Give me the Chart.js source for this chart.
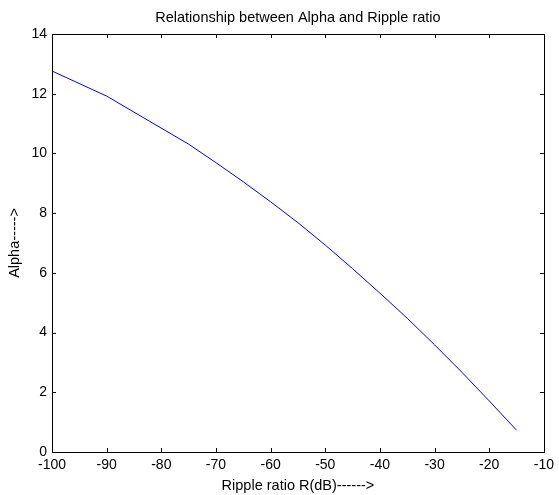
<!DOCTYPE html>
<html>
<head>
<meta charset="utf-8">
<script src="https://cdn.jsdelivr.net/npm/chart.js@4/dist/chart.umd.min.js"></script>
<style>
    html, body { margin: 0; padding: 0; background: #fff; }
    #wrap { width: 559px; height: 495px; }
</style>
</head>
<body>
<div id="wrap"><canvas id="chart1"></canvas></div>
<script>
// values
const rippleDb = [-100, -90, -75, -70, -65, -60, -55, -50, -45, -40, -35, -30, -25, -20, -15];
const alphaValues = [12.76, 11.92, 10.31, 9.69, 9.05, 8.38, 7.68, 6.93, 6.14, 5.32, 4.48, 3.59, 2.67, 1.71, 0.73];
const xTicks = [-100, -90, -80, -70, -60, -50, -40, -30, -20, -10];
const yTicks = [0, 2, 4, 6, 8, 10, 12, 14];

const points = rippleDb.map((r, i) => ({ x: r, y: alphaValues[i] }));

// matlab style box with inward ticks on all four sides
const boxTicks = {
    id: 'boxTicks',
    afterDraw(chart) {
        const ctx = chart.ctx;
        const a = chart.chartArea;
        const xs = chart.scales.x;
        const ys = chart.scales.y;
        const len = 4;
        ctx.save();
        ctx.strokeStyle = '#000';
        ctx.lineWidth = 1;
        ctx.strokeRect(Math.round(a.left) + 0.5, Math.round(a.top) + 0.5,
            Math.round(a.right - a.left), Math.round(a.bottom - a.top));
        ctx.beginPath();
        xTicks.forEach(v => {
            const px = Math.round(xs.getPixelForValue(v)) + 0.5;
            ctx.moveTo(px, a.bottom);
            ctx.lineTo(px, a.bottom - len);
            ctx.moveTo(px, a.top);
            ctx.lineTo(px, a.top + len);
        });
        yTicks.forEach(v => {
            const py = Math.round(ys.getPixelForValue(v)) + 0.5;
            ctx.moveTo(a.left, py);
            ctx.lineTo(a.left + len, py);
            ctx.moveTo(a.right, py);
            ctx.lineTo(a.right - len, py);
        });
        ctx.stroke();
        ctx.restore();
    }
};

const fontFamily = '"Liberation Sans", Arial, sans-serif';

new Chart(document.getElementById('chart1').getContext('2d'), {
    type: 'line',
    data: {
        datasets: [{
            label: 'Alpha',
            data: points,
            borderColor: 'rgb(0,0,255)',
            borderWidth: 1,
            pointRadius: 0,
            fill: false,
            tension: 0
        }]
    },
    options: {
        responsive: true,
        maintainAspectRatio: false,
        animation: false,
        events: [],
        layout: { padding: { left: 0, right: 9, top: 0, bottom: 0 }, autoPadding: false },
        plugins: {
            legend: { display: false },
            tooltip: { enabled: false },
            title: {
                display: true,
                fullSize: false,
                text: 'Relationship between Alpha and Ripple ratio',
                color: '#000',
                font: { family: fontFamily, size: 14.5, weight: 'normal' },
                padding: { top: 9, bottom: 7.6 }
            }
        },
        scales: {
            x: {
                type: 'linear',
                min: -100,
                max: -10,
                afterBuildTicks: (scale) => { scale.ticks = xTicks.map(v => ({ value: v })); },
                afterFit: (scale) => { scale.height = 43; },
                grid: { display: false, drawTicks: false },
                border: { display: false },
                ticks: {
                    color: '#000',
                    padding: 5,
                    maxRotation: 0,
                    font: { family: fontFamily, size: 14 }
                },
                title: {
                    display: true,
                    text: 'Ripple ratio R(dB)------>',
                    color: '#000',
                    font: { family: fontFamily, size: 14.5 },
                    padding: { top: 0, bottom: 0 }
                }
            },
            y: {
                type: 'linear',
                min: 0,
                max: 14,
                afterBuildTicks: (scale) => { scale.ticks = yTicks.map(v => ({ value: v })); },
                afterFit: (scale) => { scale.width = 52; },
                grid: { display: false, drawTicks: false },
                border: { display: false },
                ticks: {
                    color: '#000',
                    padding: 5,
                    font: { family: fontFamily, size: 14 }
                },
                title: {
                    display: true,
                    text: 'Alpha----->',
                    color: '#000',
                    font: { family: fontFamily, size: 14.5 },
                    padding: { top: 6, bottom: 0 }
                }
            }
        }
    },
    plugins: [boxTicks]
});
</script>
</body>
</html>
